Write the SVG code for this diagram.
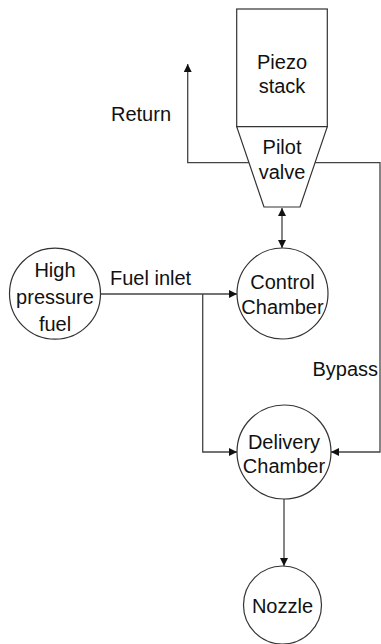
<svg xmlns="http://www.w3.org/2000/svg" width="381" height="644" viewBox="0 0 381 644">
<style>
.n{fill:#fff;stroke:#333;stroke-width:1.2}
.c{fill:none;stroke:#444;stroke-width:1.3}
text{font-family:"Liberation Sans",Arial,sans-serif;font-size:20px;fill:#111}
.m{text-anchor:middle}
</style>
<defs>
<marker id="a" viewBox="0 0 10 10" refX="10" refY="5" markerWidth="8" markerHeight="8" markerUnits="userSpaceOnUse" orient="auto-start-reverse">
<path d="M0,0 L10,5 L0,10 z" fill="#111"/>
</marker>
</defs>
<rect width="381" height="644" fill="#fff"/>
<g id="connectors">
<polyline class="c" points="249,162.7 187.7,162.7 187.7,64" marker-end="url(#a)"/>
<polyline class="c" points="315,162.7 380,162.7 380,452 331,452" marker-end="url(#a)"/>
<line class="c" x1="282" y1="208" x2="282" y2="248" marker-start="url(#a)" marker-end="url(#a)"/>
<line class="c" x1="100.5" y1="294" x2="237" y2="294" marker-end="url(#a)"/>
<polyline class="c" points="202.7,294 202.7,452 237,452" marker-end="url(#a)"/>
<line class="c" x1="284" y1="499" x2="284" y2="566" marker-end="url(#a)"/>
<text x="110" y="285">Fuel inlet</text>
<text x="111" y="121">Return</text>
<text x="312.5" y="376">Bypass</text>
</g>
<g id="piezo">
<rect class="n" x="236.7" y="9" width="90.6" height="117.7"/>
<text class="m" x="282" y="68.5">Piezo</text>
<text class="m" x="282" y="93">stack</text>
</g>
<g id="pilot">
<polygon class="n" points="236.7,126.7 327.3,126.7 300,207 264,207"/>
<text class="m" x="282" y="153.5">Pilot</text>
<text class="m" x="282" y="178.5">valve</text>
</g>
<g id="high">
<circle class="n" cx="55" cy="293.7" r="45.5"/>
<text class="m" x="55" y="277">High</text>
<text class="m" x="55" y="304">pressure</text>
<text class="m" x="55" y="331">fuel</text>
</g>
<g id="control">
<circle class="n" cx="282.5" cy="293.5" r="45.5"/>
<text class="m" x="282.5" y="288.5">Control</text>
<text class="m" x="282.5" y="313.5">Chamber</text>
</g>
<g id="delivery">
<circle class="n" cx="284" cy="452" r="47"/>
<text class="m" x="284" y="448.5">Delivery</text>
<text class="m" x="284" y="473">Chamber</text>
</g>
<g id="nozzle">
<circle class="n" cx="282.5" cy="605" r="39"/>
<text class="m" x="282.5" y="613">Nozzle</text>
</g>
</svg>
